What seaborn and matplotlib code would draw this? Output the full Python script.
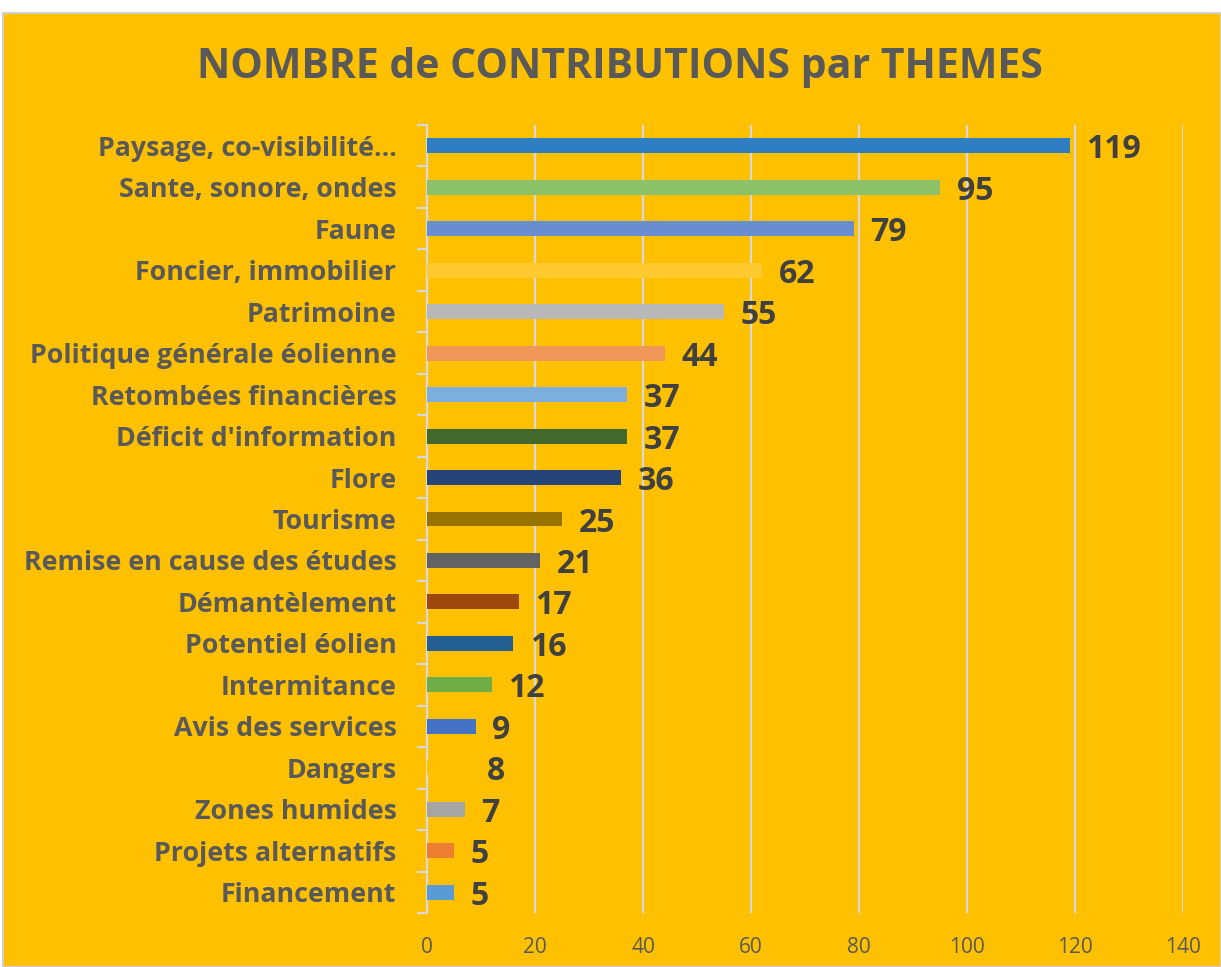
import matplotlib
matplotlib.use("Agg")
import matplotlib.pyplot as plt
import seaborn as sns
import pandas as pd
from matplotlib.patches import Rectangle

# --- data ---
themes = ["Paysage, co-visibilité…", "Sante, sonore, ondes", "Faune",
          "Foncier, immobilier", "Patrimoine", "Politique générale éolienne",
          "Retombées financières", "Déficit d'information", "Flore",
          "Tourisme", "Remise en cause des études", "Démantèlement",
          "Potentiel éolien", "Intermitance", "Avis des services", "Dangers",
          "Zones humides", "Projets alternatifs", "Financement"]
counts = [119, 95, 79, 62, 55, 44, 37, 37, 36, 25, 21, 17, 16, 12, 9, 8, 7, 5, 5]
bar_colors = ["#2F7EC1", "#8DC169", "#698ED0", "#FFCA30", "#B8B8B8", "#F1975A",
              "#7CAFDD", "#43682B", "#264478", "#997300", "#636363", "#9E480E",
              "#255E91", "#70AD47", "#4472C4", "#FFC000", "#A5A5A5", "#ED7D31",
              "#5B9BD5"]
x_ticks = [0, 20, 40, 60, 80, 100, 120, 140]

BG = "#FFC000"
GRID = "#D9D9D9"
TXT = "#595959"
VAL = "#404040"
FONT = "Open Sans"

df = pd.DataFrame({"theme": themes, "count": counts})

sns.set_theme(style="white")
plt.rcParams["font.family"] = [FONT, "DejaVu Sans"]

fig = plt.figure(figsize=(12.21, 9.67), dpi=100)
fig.patch.set_facecolor("white")
fig.patches.append(Rectangle((3 / 1221, 0), 1 - 3 / 1221, 1 - 13 / 967,
                             transform=fig.transFigure, facecolor=BG,
                             edgecolor="#D0D0D0", linewidth=1.5, zorder=-10))

ax = fig.add_axes([427 / 1221, 54 / 967, (1183 - 427) / 1221, (913 - 125) / 967])
ax.set_facecolor("none")
ax.set_zorder(5)

sns.barplot(data=df, x="count", y="theme", hue="theme", palette=bar_colors,
            orient="h", width=0.36, dodge=False, legend=False, ax=ax,
            saturation=1, linewidth=0, zorder=3)

# value labels at the end of each bar
for cont in ax.containers:
    labels = ax.bar_label(cont, padding=12, fontsize=23, fontweight="bold",
                          color=VAL)
    for t in labels:
        t.set_va("center_baseline")

ax.set_xlim(0, 140)
ax.set_ylim(len(themes) - 0.5, -0.5)
ax.set_xticks(x_ticks)
ax.xaxis.grid(True, color=GRID, linewidth=1.6, zorder=0)
ax.set_axisbelow(True)
ax.tick_params(axis="x", length=0, labelsize=15, labelcolor=TXT, pad=17)

ax.set_yticks(range(len(themes)))
ax.set_yticklabels(themes)
ax.tick_params(axis="y", which="major", left=False, length=0, pad=22,
               labelsize=19.3, labelcolor=TXT)
for lbl in ax.get_yticklabels():
    lbl.set_fontweight("bold")

# small outward marks between categories on the y axis
ytr = ax.get_yaxis_transform()
for i in range(len(themes) + 1):
    ax.plot([-0.0135, 0], [i - 0.5, i - 0.5], transform=ytr, color=GRID,
            linewidth=1.6, clip_on=False, solid_capstyle="butt", zorder=4)

for side in ["top", "right", "bottom"]:
    ax.spines[side].set_visible(False)
ax.spines["left"].set_color(GRID)
ax.spines["left"].set_linewidth(1.6)
ax.set_xlabel("")
ax.set_ylabel("")

fig.text(620 / 1221, 1 - 67 / 967, "NOMBRE de CONTRIBUTIONS par THEMES",
         ha="center", va="center", fontsize=29.5, fontweight="bold", color=TXT)

fig.savefig("out.png", dpi=100, facecolor=fig.get_facecolor())
